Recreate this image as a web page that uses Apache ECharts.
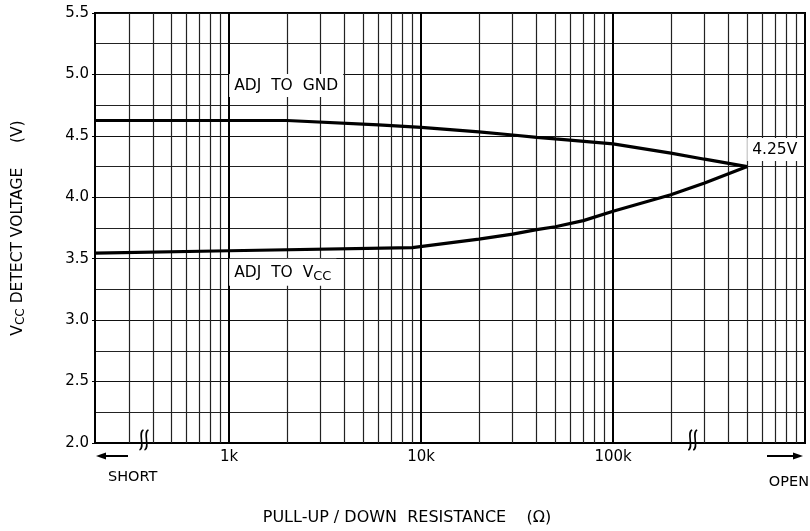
<!DOCTYPE html>
<html><head><meta charset="utf-8">
<script src="https://cdn.jsdelivr.net/npm/echarts@6/dist/echarts.min.js"></script>
<style>html,body{margin:0;padding:0;background:#fff}#c{width:810px;height:531px}</style>
</head><body><div id="c"></div>
<script>
// ---- data ----
const gndR = [200, 2000, 6000, 10000, 20000, 30000, 40000, 50000, 100000, 200000, 300000, 500000];
const gndV = [4.625, 4.625, 4.59, 4.569, 4.532, 4.507, 4.488, 4.475, 4.435, 4.36, 4.31, 4.25];
const vccR = [200, 1000, 9000, 20000, 30000, 40000, 50000, 70000, 100000, 200000, 300000, 500000];
const vccV = [3.545, 3.565, 3.59, 3.66, 3.70, 3.737, 3.76, 3.81, 3.886, 4.02, 4.117, 4.25];
const minorGridR = [300, 400, 500, 600, 700, 800, 900,
  2000, 3000, 4000, 5000, 6000, 7000, 8000, 9000,
  20000, 30000, 40000, 50000, 60000, 70000, 80000, 90000,
  200000, 300000, 400000, 500000, 600000, 700000, 800000, 900000];
const majorGridR = [1000, 10000, 100000];
const xTickLabels = {1000: '1k', 10000: '10k', 100000: '100k'};
const xRange = [200, 1000000];
const yRange = [2.0, 5.5];
const yStep = 0.5;
// annotation anchors (data space)
const gndLabelAt = [1000, 4.91];
const vccLabelAt = [1000, 3.39];
const meetLabelAt = [500000, 4.388];

const FONT = 'DejaVu Sans';
const chart = echarts.init(document.getElementById('c'), null, {renderer: 'canvas'});

const zip = (a, b) => a.map((v, i) => [v, b[i]]);
const annLabel = (fmt) => ({
  show: true, position: 'right', distance: 0, formatter: fmt,
  backgroundColor: '#fff', padding: [4, 5, 3, 5], color: '#000',
  fontSize: 15.5, fontFamily: FONT,
  rich: {
    a: {fontSize: 15.5, fontFamily: FONT, color: '#000'},
    s: {fontSize: 13, fontFamily: FONT, color: '#000', padding: [7, 0, 0, 0]}
  }
});

chart.setOption({
  animation: false,
  backgroundColor: '#fff',
  grid: {left: 95, right: 5, top: 13, bottom: 88, show: true, borderColor: '#000', borderWidth: 2,
         containLabel: false, outerBoundsMode: 'none'},
  xAxis: {
    type: 'log', logBase: 10, min: xRange[0], max: xRange[1],
    axisLine: {show: true, lineStyle: {color: '#000', width: 2}},
    axisTick: {show: false},
    splitLine: {show: false},
    axisLabel: {
      show: true, margin: 7, color: '#000', fontSize: 15, fontFamily: FONT,
      showMinLabel: true, showMaxLabel: true,
      formatter: v => xTickLabels[Math.round(v)] || ''
    }
  },
  yAxis: {
    type: 'value', min: yRange[0], max: yRange[1], interval: yStep,
    name: '{a|V}{s|CC}{a| DETECT VOLTAGE     (V)}',
    nameLocation: 'middle', nameRotate: 90, nameGap: 68,
    nameTextStyle: {
      rich: {
        a: {fontSize: 15.5, fontFamily: FONT, color: '#000'},
        s: {fontSize: 12, fontFamily: FONT, color: '#000', padding: [6, 0, 0, 0]}
      }
    },
    axisLine: {show: true, lineStyle: {color: '#000', width: 2}},
    axisTick: {show: true, length: 3, lineStyle: {color: '#000'}},
    axisLabel: {margin: 6, color: '#000', fontSize: 15, fontFamily: FONT, formatter: v => v.toFixed(1)},
    splitLine: {show: true, lineStyle: {color: '#111', width: 1.2}},
    minorTick: {show: false, splitNumber: 2},
    minorSplitLine: {show: true, lineStyle: {color: '#222', width: 1.2}}
  },
  series: [
    {
      type: 'line', z: 1, data: [], silent: true,
      markLine: {
        silent: true, symbol: ['none', 'none'], animation: false,
        label: {show: false},
        data: minorGridR.map(v => ({xAxis: v, lineStyle: {color: '#222', width: 1.2, type: 'solid'}}))
          .concat(majorGridR.map(v => ({xAxis: v, lineStyle: {color: '#000', width: 2, type: 'solid'}})))
      }
    },
    {
      type: 'line', z: 5, name: 'ADJ TO GND', data: zip(gndR, gndV),
      showSymbol: false, symbol: 'none', smooth: false,
      lineStyle: {color: '#000', width: 3.2},
      markPoint: {
        symbol: 'circle', symbolSize: 0, silent: true,
        data: [
          {coord: gndLabelAt, label: annLabel('ADJ  TO  GND')},
          {coord: meetLabelAt, label: annLabel('4.25V')}
        ]
      }
    },
    {
      type: 'line', z: 5, name: 'ADJ TO VCC', data: zip(vccR, vccV),
      showSymbol: false, symbol: 'none', smooth: false,
      lineStyle: {color: '#000', width: 3.2},
      markPoint: {
        symbol: 'circle', symbolSize: 0, silent: true,
        data: [
          {coord: vccLabelAt, label: annLabel('{a|ADJ  TO  V}{s|CC}')}
        ]
      }
    }
  ]
});

// decorations: arrows, SHORT/OPEN, axis break marks, x axis title
function breakMark(cx, cy) {
  const els = [];
  [-2.5, 2.5].forEach(dx => {
    els.push({
      type: 'bezierCurve', z: 20,
      shape: {x1: cx + dx + 2, y1: cy - 10, x2: cx + dx - 2, y2: cy + 10,
              cpx1: cx + dx - 4, cpy1: cy - 8, cpx2: cx + dx + 4, cpy2: cy + 8},
      style: {stroke: '#000', lineWidth: 1.6, fill: null}
    });
  });
  return els;
}
const bY = chart.convertToPixel({gridIndex: 0}, [xRange[0], yRange[0]])[1];
const bx1 = chart.convertToPixel({gridIndex: 0}, [360, yRange[0]])[0];
const bx2 = chart.convertToPixel({gridIndex: 0}, [260000, yRange[0]])[0];

chart.setOption({
  graphic: [
    ...breakMark(bx1, bY - 3),
    ...breakMark(bx2, bY - 3),
    {type: 'line', shape: {x1: 100, y1: 456, x2: 128, y2: 456}, style: {stroke: '#000', lineWidth: 2}},
    {type: 'polygon', shape: {points: [[96, 456], [106, 452.5], [106, 459.5]]}, style: {fill: '#000'}},
    {type: 'line', shape: {x1: 767, y1: 456, x2: 796, y2: 456}, style: {stroke: '#000', lineWidth: 2}},
    {type: 'polygon', shape: {points: [[803, 456], [793, 452.5], [793, 459.5]]}, style: {fill: '#000'}},
    {type: 'text', x: 108, y: 477, style: {text: 'SHORT', fill: '#000', font: '14.5px "DejaVu Sans"', textAlign: 'left', textVerticalAlign: 'middle'}},
    {type: 'text', x: 809, y: 482, style: {text: 'OPEN', fill: '#000', font: '14.5px "DejaVu Sans"', textAlign: 'right', textVerticalAlign: 'middle'}},
    {type: 'text', x: 407, y: 518, style: {text: 'PULL-UP / DOWN  RESISTANCE    (\u03A9)', fill: '#000', font: '16px "DejaVu Sans"', textAlign: 'center', textVerticalAlign: 'middle'}}
  ]
});
</script>
</body></html>
